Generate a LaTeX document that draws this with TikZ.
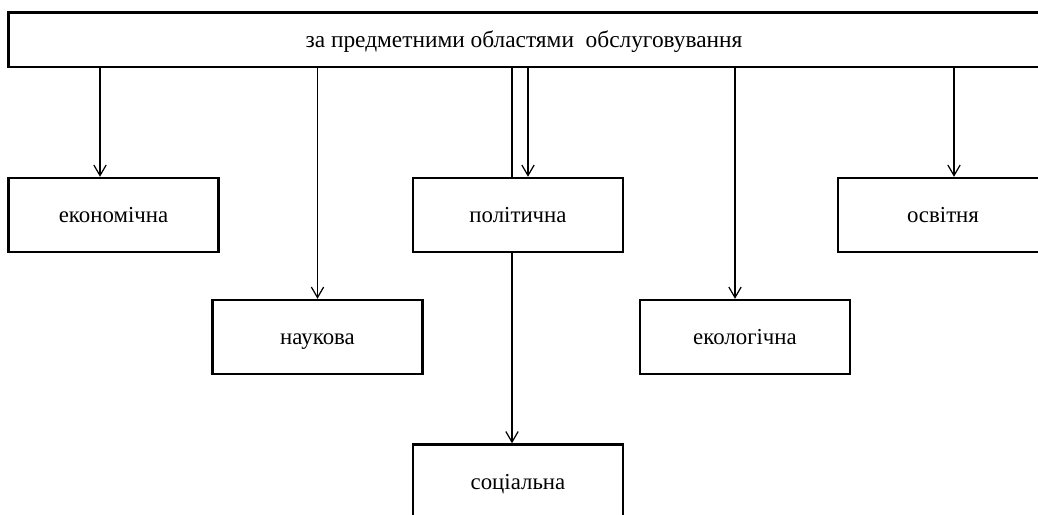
\documentclass[tikz,border=0pt]{standalone}
\usepackage{fontspec}
\setmainfont{Liberation Serif}
\usetikzlibrary{arrows.meta}

\begin{document}
\begin{tikzpicture}[x=0.02cm,y=-0.02cm,>={Straight Barb[length=6pt,width=7pt]},
  box/.style={draw,line width=1.4pt,minimum width=4.2cm,minimum height=1.48cm,
  inner sep=0pt,text height=0.88em,text depth=0pt,font=\fontsize{13}{15}\selectfont},
  topbox/.style={draw,line width=1.7pt,minimum width=20.64cm,minimum height=1.1cm,
  inner sep=0pt,text height=0.88em,text depth=0pt,font=\fontsize{13.3}{15}\selectfont},
  link/.style={line width=0.7pt}]
\useasboundingbox (0,0) rectangle (1038,514);
% boxes
\node[topbox] (top) at (524,39.5) {за предметними областями\ \ обслуговування};
\node[box] (econ) at (113.5,215) {економічна};
\node[box] (nauk) at (317.5,337) {наукова};
\node[box] (pol) at (518,215) {політична};
\node[box] (ekol) at (745,337) {екологічна};
\node[box] (osv) at (943,215) {освітня};
\node[box] (soc) at (518,481.5) {соціальна};
% arrow columns
\coordinate (xe) at (100,0);
\coordinate (xp) at (528,0);
\coordinate (xs) at (512,0);
\coordinate (xk) at (735,0);
\coordinate (xo) at (954,0);
% connectors
\draw[link,->] (top.south -| xe) -- (econ.north -| xe);
\draw[link,->] (top.south -| nauk) -- (nauk.north);
\draw[link,->] (top.south -| xp) -- (pol.north -| xp);
\draw[link] (top.south -| xs) -- (pol.north -| xs);
\draw[link,->] (pol.south -| xs) -- (soc.north -| xs);
\draw[link,->] (top.south -| xk) -- (ekol.north -| xk);
\draw[link,->] (top.south -| xo) -- (osv.north -| xo);
\end{tikzpicture}
\end{document}
